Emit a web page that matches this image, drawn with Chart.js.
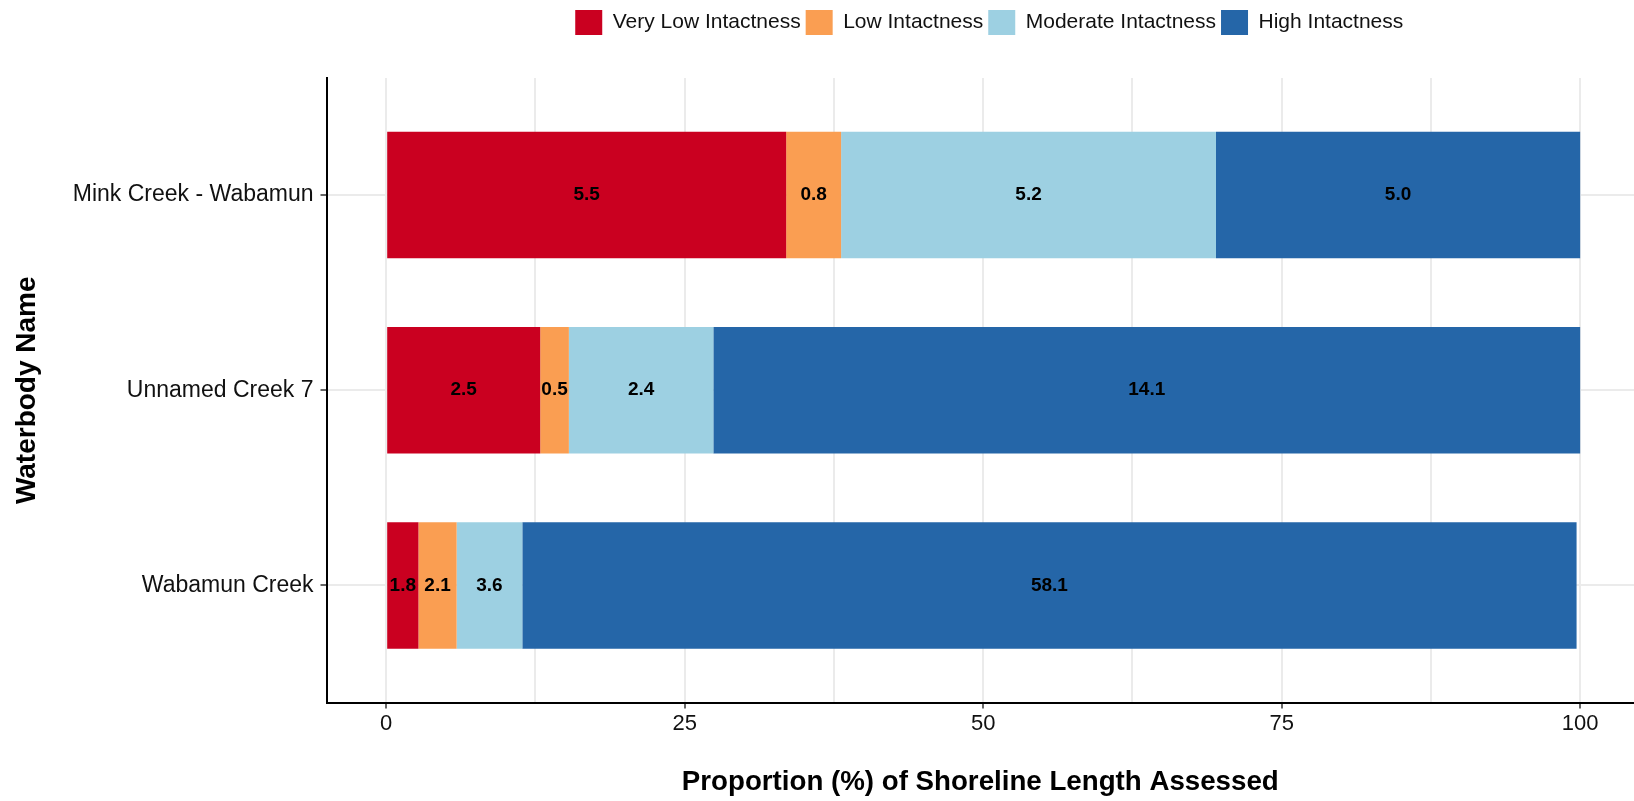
<!DOCTYPE html>
<html lang="en">
<head>
<meta charset="UTF-8">
<title>Shoreline Intactness by Waterbody</title>
<script src="https://cdn.jsdelivr.net/npm/chart.js"></script>
<style>
  html, body {
    margin: 0;
    padding: 0;
    background: #fff;
    overflow: hidden;
  }
  canvas {
    display: block;
  }
</style>
</head>
<body>
  <canvas id="chart" width="1634" height="801"></canvas>

  <script>
    const categories = ['Mink Creek - Wabamun', 'Unnamed Creek 7', 'Wabamun Creek'];
    const classes = ['Very Low Intactness', 'Low Intactness', 'Moderate Intactness', 'High Intactness'];
    const colors = ['#CA0020', '#FA9E52', '#9DD0E2', '#2566A8'];

    // proportion (%) of shoreline length
    const veryLowPct  = [33.5, 12.9, 2.7];
    const lowPct      = [4.6, 2.4, 3.2];
    const moderatePct = [31.4, 12.1, 5.5];
    const highPct     = [30.5, 72.6, 88.3];

    // lengths printed on the bars
    const veryLowLen  = [5.5, 2.5, 1.8];
    const lowLen      = [0.8, 0.5, 2.1];
    const moderateLen = [5.2, 2.4, 3.6];
    const highLen     = [5.0, 14.1, 58.1];

    const xTicks = [0, 12.5, 25, 37.5, 50, 62.5, 75, 87.5, 100];

    const pcts = [veryLowPct, lowPct, moderatePct, highPct];
    const lens = [veryLowLen, lowLen, moderateLen, highLen];

    Chart.defaults.font.family = '"Liberation Sans", Arial, Helvetica, sans-serif';
    Chart.defaults.color = '#111';

    const barLabels = {
      id: 'barLabels',
      afterDatasetsDraw(chart) {
        const ctx = chart.ctx;
        ctx.save();
        ctx.font = 'bold 19px "Liberation Sans", Arial, sans-serif';
        ctx.fillStyle = '#000';
        ctx.textAlign = 'center';
        ctx.textBaseline = 'middle';
        chart.data.datasets.forEach((ds, i) => {
          chart.getDatasetMeta(i).data.forEach((bar, j) => {
            const p = bar.getCenterPoint();
            ctx.fillText(ds.lengths[j].toFixed(1), p.x, p.y);
          });
        });
        ctx.restore();
      }
    };

    // room between legend and plot, and nudge legend over the panel centre
    const legendGap = {
      id: 'legendGap',
      beforeInit(chart) {
        const legend = chart.legend;
        const fit = legend.fit;
        legend.fit = function () {
          fit.bind(legend)();
          this.height += 33;
        };
        const draw = legend.draw;
        legend.draw = function () {
          this.left += 9; this.right += 9;
          draw.bind(legend)();
          this.left -= 9; this.right -= 9;
        };
      }
    };

    const data = {
      datasets: classes.map((name, k) => ({
        label: name,
        data: categories.map((c, i) => ({ x: pcts[k][i], y: i + 1 })),
        lengths: lens[k],
        backgroundColor: colors[k],
        borderWidth: 0,
        barPercentage: 0.648,
        categoryPercentage: 1,
      }))
    };

    const options = {
      indexAxis: 'y',
      responsive: false,
      animation: false,
      layout: { padding: { top: 5, left: 0, right: 0, bottom: 0 } },
      scales: {
        x: {
          type: 'linear',
          stacked: true,
          min: -5,
          max: 104.51,
          afterBuildTicks: axis => { axis.ticks = xTicks.map(v => ({ value: v })); },
          afterFit: scale => { scale.height = 98.5; },
          grid: {
            color: '#EBEBEB',
            lineWidth: 2,
            tickLength: 6,
            tickWidth: 1.5,
            tickColor: ctx => ctx.tick && ctx.tick.value % 25 === 0 ? '#333' : 'rgba(0,0,0,0)',
          },
          border: { display: true, color: '#000', width: 2 },
          ticks: {
            autoSkip: false,
            maxRotation: 0,
            padding: 2,
            font: { size: 22 },
            color: '#111',
            callback: v => v % 25 === 0 ? String(v) : '',
          },
          title: {
            display: true,
            text: 'Proportion (%) of Shoreline Length Assessed',
            font: { size: 27.7, weight: 'bold' },
            color: '#000',
            padding: { top: 0, bottom: 2 },
          },
        },
        y: {
          type: 'linear',
          stacked: true,
          reverse: true,
          offset: false,
          min: 0.4,
          max: 3.6,
          afterBuildTicks: axis => { axis.ticks = categories.map((c, i) => ({ value: i + 1 })); },
          afterFit: scale => { scale.width = 326.5; },
          grid: {
            offset: false,
            color: '#EBEBEB',
            lineWidth: 2,
            tickLength: 6,
            tickWidth: 1.5,
            tickColor: '#333',
          },
          border: { display: true, color: '#000', width: 2 },
          ticks: {
            autoSkip: false,
            padding: 7,
            font: { size: 23 },
            color: '#111',
            callback: v => categories[v - 1] || '',
          },
          title: {
            display: true,
            text: 'Waterbody Name',
            font: { size: 28, weight: 'bold' },
            color: '#000',
            padding: { top: 10, bottom: 0 },
          },
        },
      },
      plugins: {
        legend: {
          position: 'top',
          fullSize: false,
          labels: {
            boxWidth: 27,
            boxHeight: 25,
            padding: 5,
            font: { size: 21 },
            color: '#111',
          },
        },
        tooltip: { enabled: false },
      },
    };

    new Chart(document.getElementById('chart').getContext('2d'), {
      type: 'bar',
      data: data,
      options: options,
      plugins: [barLabels, legendGap],
    });
  </script>
</body>
</html>
